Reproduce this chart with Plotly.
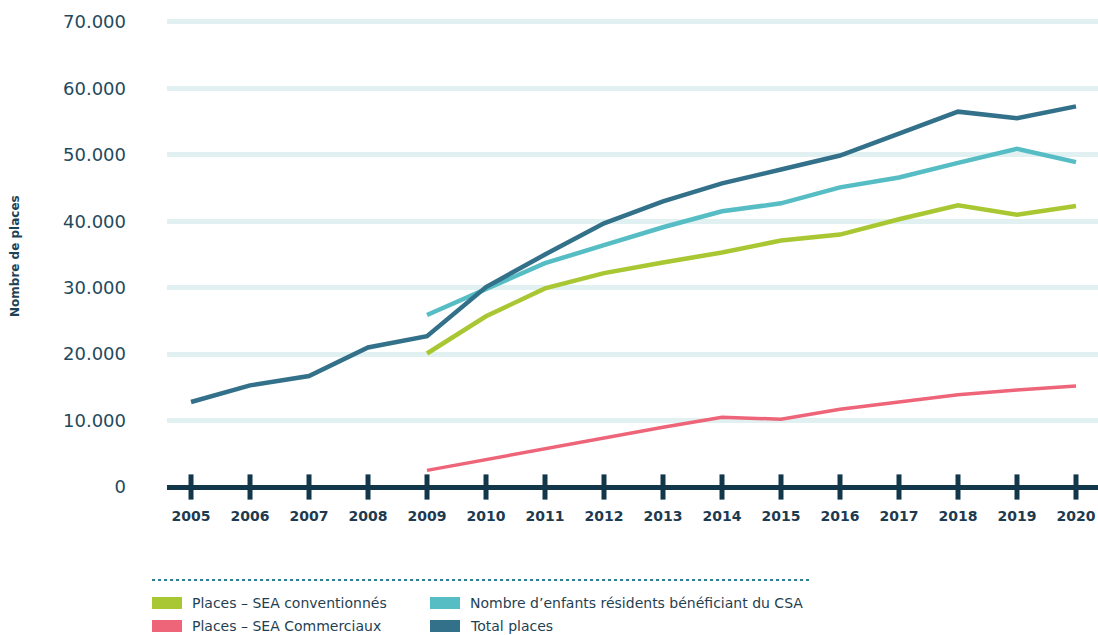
import plotly.graph_objects as go

# Données : nombre de places d'accueil par année
years = list(range(2005, 2021))
total_places = [12800, 15300, 16700, 21000, 22700, 30100, 35000, 39700,
                43000, 45700, 47800, 49900, 53200, 56500, 55500, 57300]
csa_enfants = [None, None, None, None, 25900, 29800, 33700, 36400,
               39100, 41500, 42700, 45100, 46600, 48800, 50900, 48900]
sea_conventionnes = [None, None, None, None, 20100, 25700, 29900, 32200,
                     33800, 35300, 37100, 38000, 40300, 42400, 41000, 42300]
sea_commerciaux = [None, None, None, None, 2500, 4150, 5800, 7400,
                   9000, 10500, 10200, 11700, 12800, 13900, 14600, 15200]

y_ticks = [0, 10000, 20000, 30000, 40000, 50000, 60000, 70000]

name_conv = "Places – SEA conventionnés"
name_comm = "Places – SEA Commerciaux"
name_csa = "Nombre d’enfants résidents bénéficiant du CSA"
name_total = "Total places"

C_CONV = "#a9c733"
C_COMM = "#ee6478"
C_CSA = "#55bdc3"
C_TOTAL = "#33718a"
C_AXIS = "#12364a"
C_TEXT = "#1e4356"
C_GRID = "#e1f1f1"

W, H = 1098, 635
ML, MR, MT, MB = 167, 0, 10, 135
PW, PH = W - ML - MR, H - MT - MB


def px_x(px):
    return (px - ML) / PW


def px_y(py):
    return (H - MB - py) / PH


fig = go.Figure()

series = [
    (name_comm, sea_commerciaux, C_COMM, 3.5),
    (name_conv, sea_conventionnes, C_CONV, 4.5),
    (name_csa, csa_enfants, C_CSA, 4.5),
    (name_total, total_places, C_TOTAL, 4.5),
]
for name, vals, color, width in series:
    fig.add_trace(go.Scatter(
        x=years, y=vals, name=name, mode="lines",
        line=dict(color=color, width=width),
        connectgaps=False, hoverinfo="skip", showlegend=False,
    ))

# Graduations verticales sur l'axe des années
fig.add_trace(go.Scatter(
    x=years, y=[0] * len(years), mode="markers",
    marker=dict(symbol="line-ns", size=18,
                line=dict(color=C_AXIS, width=5)),
    hoverinfo="skip", showlegend=False,
))

fig.update_layout(
    width=W, height=H, autosize=False,
    margin=dict(l=ML, r=MR, t=MT, b=MB),
    paper_bgcolor="white", plot_bgcolor="white",
    separators=",.",
    showlegend=False,
    font=dict(family="DejaVu Sans", color=C_TEXT),
)

fig.update_xaxes(
    range=[2004.593, 2020.373],
    tickmode="array", tickvals=years, ticktext=[str(y) for y in years],
    showgrid=False, zeroline=False, showline=False, ticks="",
    tickfont=dict(family="DejaVu Sans", size=14, color="#1d3a4f", weight="bold"),
    ticklabelstandoff=6,
)

fig.update_yaxes(
    range=[-1957, 71805],
    tickmode="array", tickvals=y_ticks, tickformat=",d",
    showgrid=True, gridcolor=C_GRID, gridwidth=5,
    zeroline=True, zerolinecolor=C_AXIS, zerolinewidth=5,
    showline=False, ticks="",
    tickfont=dict(family="DejaVu Sans", size=18, color="#1f4a5e"),
    ticklabelstandoff=40,
)

annotations = [
    dict(text="<b>Nombre de places</b>", textangle=-90,
         xref="paper", yref="paper", x=px_x(15), y=px_y(256),
         xanchor="center", yanchor="middle", showarrow=False,
         font=dict(family="DejaVu Sans", size=12, color=C_TEXT)),
]

shapes = [
    dict(type="line", xref="paper", yref="paper",
         x0=px_x(152), x1=px_x(811), y0=px_y(580), y1=px_y(580),
         line=dict(color="#2f7f96", width=2, dash="dot")),
]

legend_items = [
    (name_conv, C_CONV, 152, 603),
    (name_comm, C_COMM, 152, 626),
    (name_csa, C_CSA, 430, 603),
    (name_total, C_TOTAL, 430, 626),
]
for name, color, lx, ly in legend_items:
    shapes.append(dict(type="rect", xref="paper", yref="paper",
                       x0=px_x(lx), x1=px_x(lx + 30),
                       y0=px_y(ly + 6), y1=px_y(ly - 6),
                       fillcolor=color, line=dict(width=0)))
    annotations.append(dict(text=name, xref="paper", yref="paper",
                            x=px_x(lx + 38), y=px_y(ly),
                            xanchor="left", yanchor="middle", showarrow=False,
                            font=dict(family="DejaVu Sans", size=14, color="#1f3f52")))

fig.update_layout(shapes=shapes, annotations=annotations)

fig.write_html("out.html")
